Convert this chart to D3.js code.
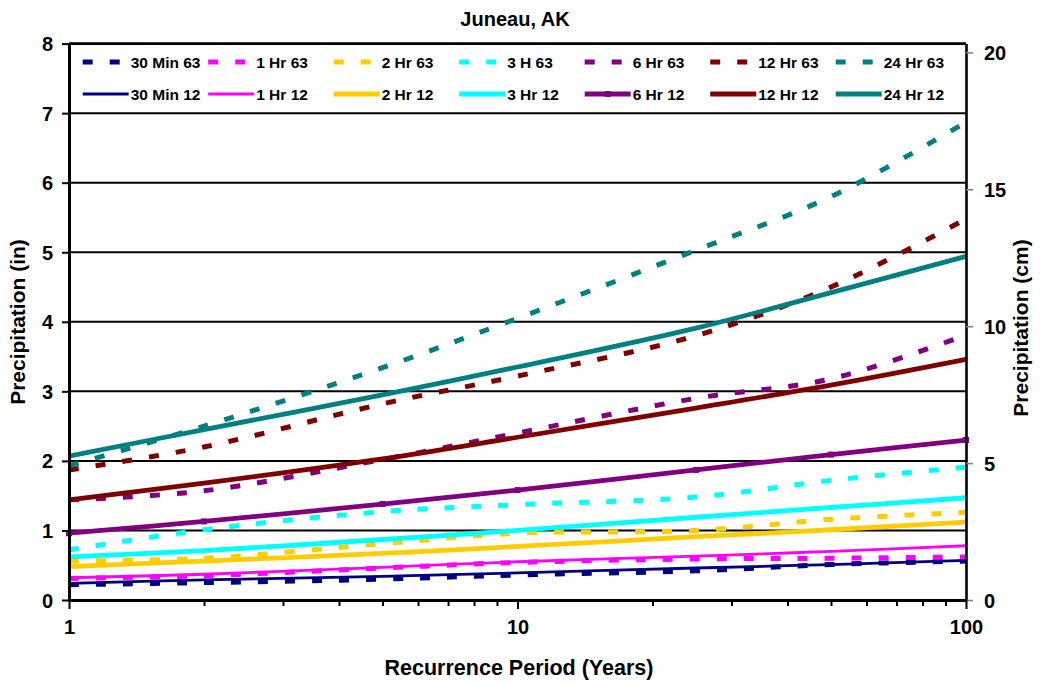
<!DOCTYPE html>
<html>
<head>
<meta charset="utf-8">
<script src="https://cdn.jsdelivr.net/npm/d3@7"></script>
<style>
  html, body { margin: 0; padding: 0; background: #fff; }
  svg { display: block; font-family: "Liberation Sans", Arial, sans-serif; font-weight: bold; }
</style>
</head>
<body>
<svg id="chart" width="1040" height="683"></svg>
<script>
// Recurrence periods (years)
const periods = [1, 2, 5, 10, 25, 50, 100];

// Precipitation depths (inches), 1963 estimates
const min30_63 = [0.22, 0.25, 0.30, 0.36, 0.42, 0.51, 0.56];
const hr1_63   = [0.31, 0.35, 0.46, 0.54, 0.59, 0.60, 0.62];
const hr2_63   = [0.56, 0.60, 0.81, 0.96, 1.00, 1.16, 1.26];
const hr3_63   = [0.72, 1.01, 1.27, 1.37, 1.48, 1.72, 1.91];
const hr6_63   = [1.44, 1.57, 2.02, 2.40, 2.90, 3.18, 3.81];
const hr12_63  = [1.87, 2.20, 2.82, 3.22, 3.80, 4.50, 5.48];
const hr24_63  = [1.93, 2.50, 3.34, 4.05, 5.03, 5.80, 6.87];

// Precipitation depths (inches), 2012 estimates
const min30_12 = [0.24, 0.29, 0.34, 0.39, 0.46, 0.51, 0.57];
const hr1_12   = [0.32, 0.37, 0.47, 0.55, 0.63, 0.70, 0.78];
const hr2_12   = [0.48, 0.56, 0.67, 0.77, 0.91, 1.01, 1.12];
const hr3_12   = [0.62, 0.71, 0.87, 1.00, 1.19, 1.33, 1.47];
const hr6_12   = [0.96, 1.13, 1.38, 1.58, 1.87, 2.09, 2.30];
const hr12_12  = [1.44, 1.68, 2.03, 2.34, 2.76, 3.09, 3.46];
const hr24_12  = [2.07, 2.45, 2.95, 3.35, 3.91, 4.42, 4.94];

// Series labels
const labels63 = ["30 Min 63", "1 Hr 63", "2 Hr 63", "3 H 63", "6 Hr 63", "12 Hr 63", "24 Hr 63"];
const labels12 = ["30 Min 12", "1 Hr 12", "2 Hr 12", "3 Hr 12", "6 Hr 12", "12 Hr 12", "24 Hr 12"];
const values63 = [min30_63, hr1_63, hr2_63, hr3_63, hr6_63, hr12_63, hr24_63];
const values12 = [min30_12, hr1_12, hr2_12, hr3_12, hr6_12, hr12_12, hr24_12];

// Tick values
const yTicksIn = [0, 1, 2, 3, 4, 5, 6, 7, 8];
const yTicksCm = [0, 5, 10, 15, 20];
const xMajor = [1, 10, 100];

const colors = ["#000080", "#FF00FF", "#FFCC00", "#00FFFF", "#800080", "#800000", "#008080"];
const widths12 = [2.8, 2.8, 4.8, 4.8, 4.8, 4.8, 4.8];

const svg = d3.select("#chart");
const L = 69, R = 966, T = 43.6, B = 600;

const x = d3.scaleLog().domain([1, 100]).range([L, R]);
const y = d3.scaleLinear().domain([0, 8]).range([B, T]);
const yCm = d3.scaleLinear().domain([0, 8 * 2.54]).range([B, T]);

// Horizontal gridlines
svg.append("g").selectAll("line")
  .data(yTicksIn.filter(v => v > 0 && v < 8))
  .join("line")
  .attr("x1", L).attr("x2", R)
  .attr("y1", d => y(d)).attr("y2", d => y(d))
  .attr("stroke", "#000").attr("stroke-width", 2);

// Top border of plot area
svg.append("line").attr("x1", L).attr("x2", R).attr("y1", y(8)).attr("y2", y(8))
  .attr("stroke", "#000").attr("stroke-width", 2.6);

const line = d3.line()
  .x((d, i) => x(periods[i]))
  .y(d => y(d))
  .curve(d3.curveCatmullRom.alpha(0.5));

// 1963 series (dashed)
svg.append("g").selectAll("path")
  .data(values63)
  .join("path")
  .attr("d", d => line(d))
  .attr("fill", "none")
  .attr("stroke", (d, i) => colors[i])
  .attr("stroke-width", 5)
  .attr("stroke-dasharray", "10,17");

// 2012 series (solid)
svg.append("g").selectAll("path")
  .data(values12)
  .join("path")
  .attr("d", d => line(d))
  .attr("fill", "none")
  .attr("stroke", (d, i) => colors[i])
  .attr("stroke-width", (d, i) => widths12[i]);

// Square markers on the 6 Hr 12 series
svg.append("g").selectAll("rect")
  .data(hr6_12)
  .join("rect")
  .attr("x", (d, i) => x(periods[i]) - 3)
  .attr("y", d => y(d) - 3)
  .attr("width", 6).attr("height", 6)
  .attr("fill", colors[4]);

// Left axis
const gLeft = svg.append("g").attr("transform", `translate(${L},0)`)
  .call(d3.axisLeft(y).tickValues(yTicksIn).tickSize(7).tickSizeOuter(0).tickPadding(9).tickFormat(d3.format("d")));
gLeft.select(".domain").attr("stroke", "#000").attr("stroke-width", 3);
gLeft.selectAll(".tick line").attr("stroke", "#000").attr("stroke-width", 2);
gLeft.selectAll(".tick text").attr("font-size", 20).attr("font-family", "Liberation Sans, Arial, sans-serif")
  .attr("font-weight", "bold").attr("fill", "#000").attr("dy", "0.35em");

// Right axis (centimetres)
const gRight = svg.append("g").attr("transform", `translate(${R},0)`)
  .call(d3.axisRight(yCm).tickValues(yTicksCm).tickSize(7).tickSizeOuter(0).tickPadding(11).tickFormat(d3.format("d")));
gRight.select(".domain").attr("stroke", "#000").attr("stroke-width", 2.6);
gRight.selectAll(".tick line").attr("stroke", "#808080").attr("stroke-width", 1.6);
gRight.selectAll(".tick text").attr("font-size", 20).attr("font-family", "Liberation Sans, Arial, sans-serif")
  .attr("font-weight", "bold").attr("fill", "#000").attr("dy", "0.35em");

// Bottom axis (log scale, minor ticks at each integer multiple)
const xTickVals = [];
[1, 10].forEach(dec => { for (let k = 1; k <= 9; k++) xTickVals.push(dec * k); });
xTickVals.push(100);
const gBottom = svg.append("g").attr("transform", `translate(0,${B})`)
  .call(d3.axisBottom(x).tickValues(xTickVals).tickSize(6).tickSizeOuter(0).tickPadding(14)
    .tickFormat(d => xMajor.includes(d) ? String(d) : ""));
gBottom.select(".domain").attr("stroke", "#000").attr("stroke-width", 3);
gBottom.selectAll(".tick line").attr("stroke", "#000").attr("stroke-width", 2)
  .attr("y2", d => xMajor.includes(d) ? 9 : 6);
gBottom.selectAll(".tick text").attr("font-size", 20).attr("font-family", "Liberation Sans, Arial, sans-serif")
  .attr("font-weight", "bold").attr("fill", "#000");

// Title and axis titles
svg.append("text").attr("x", 515).attr("y", 26).attr("text-anchor", "middle")
  .attr("font-size", 20).text("Juneau, AK");
svg.append("text").attr("x", 519).attr("y", 675).attr("text-anchor", "middle")
  .attr("font-size", 21.5).text("Recurrence Period (Years)");
svg.append("text").attr("transform", "translate(25,322) rotate(-90)").attr("text-anchor", "middle")
  .attr("font-size", 21).text("Precipitation (in)");
svg.append("text").attr("transform", "translate(1028,328) rotate(-90)").attr("text-anchor", "middle")
  .attr("font-size", 21).text("Precipitation (cm)");

// Legend: 1963 row on top, 2012 row below
const legend = svg.append("g");
const colX = i => 82.7 + i * 125.5;
labels63.forEach((lab, i) => {
  legend.append("line").attr("x1", colX(i)).attr("x2", colX(i) + 46).attr("y1", 62).attr("y2", 62)
    .attr("stroke", colors[i]).attr("stroke-width", 5).attr("stroke-dasharray", "10,17");
  legend.append("text").attr("x", colX(i) + 48).attr("y", 68).attr("font-size", 15.5).text(lab);
});
labels12.forEach((lab, i) => {
  legend.append("line").attr("x1", colX(i)).attr("x2", colX(i) + 46).attr("y1", 94).attr("y2", 94)
    .attr("stroke", colors[i]).attr("stroke-width", widths12[i]);
  legend.append("text").attr("x", colX(i) + 48).attr("y", 100).attr("font-size", 15.5).text(lab);
  if (i === 4) {
    legend.append("rect").attr("x", colX(i) + 20).attr("y", 91).attr("width", 6).attr("height", 6)
      .attr("fill", colors[i]);
  }
});
</script>
</body>
</html>
